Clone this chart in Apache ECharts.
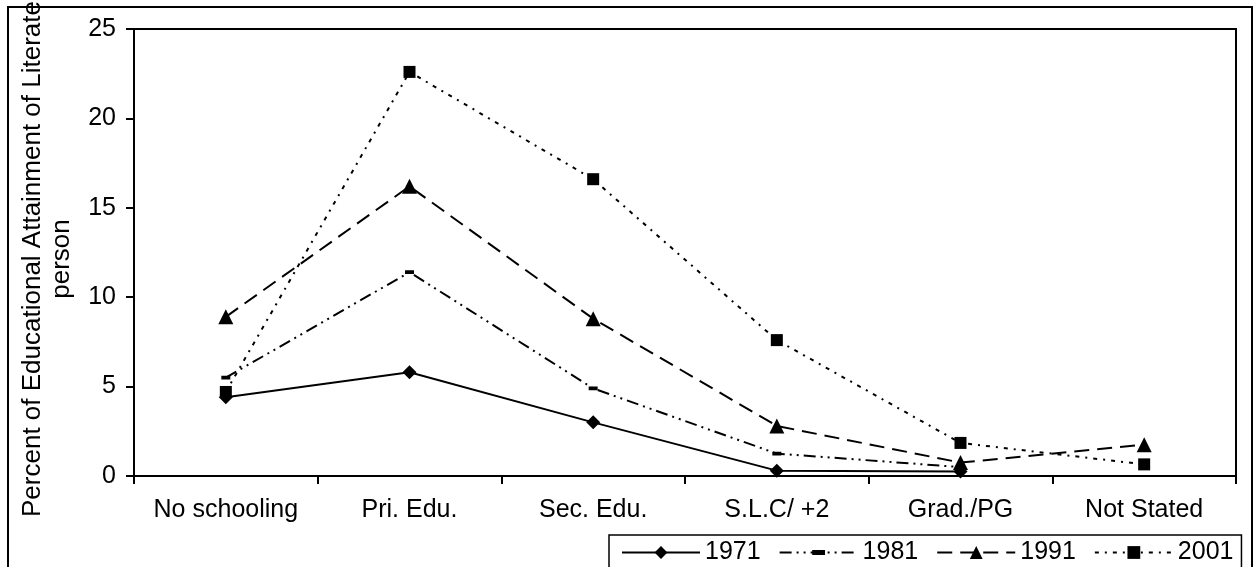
<!DOCTYPE html>
<html>
<head>
<meta charset="utf-8">
<title>Educational Attainment of Literate Persons</title>
<script src="https://cdn.jsdelivr.net/npm/echarts@6/dist/echarts.min.js"></script>
<style>
  html, body { margin: 0; padding: 0; background: #fff; }
  #chart { width: 1255px; height: 567px; }
</style>
</head>
<body>
<div id="chart"></div>
<script>
// Education levels along the horizontal axis
const categories = ['No schooling', 'Pri. Edu.', 'Sec. Edu.', 'S.L.C/ +2', 'Grad./PG', 'Not Stated'];

// Census years shown as separate lines
const years = ['1971', '1981', '1991', '2001'];

// Percent of literate persons by education level (null = not reported)
const values1971 = [4.4, 5.8, 3.0, 0.3, 0.25, null];
const values1981 = [5.5, 11.4, 4.9, 1.25, 0.5, null];
const values1991 = [8.9, 16.2, 8.8, 2.8, 0.75, 1.75];
const values2001 = [4.7, 22.6, 16.6, 7.6, 1.85, 0.65];

// Value axis ticks
const yTicks = [0, 5, 10, 15, 20, 25];

const FONT = '"Liberation Sans", Arial, sans-serif';
// short flat bar centred in a square box (the empty sub-paths set the box size)
const BAR_SYMBOL = 'path://M0,0L0.01,0ZM0,3L10,3L10,7L0,7ZM0,10L0.01,10Z';

const chart = echarts.init(document.getElementById('chart'), null, { renderer: 'canvas' });

function lineSeries(name, data, symbol, symbolSize, dash) {
  return {
    name: name,
    type: 'line',
    data: data,
    symbol: symbol,
    symbolSize: symbolSize,
    showAllSymbol: true,
    connectNulls: false,
    animation: false,
    itemStyle: { color: '#000', borderWidth: 0 },
    lineStyle: { color: '#000', width: 2, type: dash, cap: 'butt' },
    emphasis: { disabled: true }
  };
}

chart.setOption({
  backgroundColor: '#fff',
  animation: false,
  textStyle: { fontFamily: FONT, color: '#000' },
  grid: {
    left: 134, right: 19, top: 29, bottom: 91,
    show: true, borderColor: '#000', borderWidth: 2, backgroundColor: '#fff'
  },
  xAxis: {
    type: 'category',
    data: categories,
    boundaryGap: true,
    axisLine: { lineStyle: { color: '#000', width: 2 } },
    axisTick: { show: true, length: 8, inside: false, lineStyle: { color: '#000', width: 2 } },
    axisLabel: { color: '#000', fontSize: 25, fontFamily: FONT, margin: 22, interval: 0 },
    splitLine: { show: false }
  },
  yAxis: {
    type: 'value',
    min: yTicks[0],
    max: yTicks[yTicks.length - 1],
    interval: yTicks[1] - yTicks[0],
    axisLine: { show: true, lineStyle: { color: '#000', width: 2 } },
    axisTick: { show: true, length: 8, lineStyle: { color: '#000', width: 2 } },
    axisLabel: { color: '#000', fontSize: 25, fontFamily: FONT, margin: 18 },
    splitLine: { show: false }
  },
  legend: {
    data: years,
    left: 609,
    top: 535,
    width: 614,
    orient: 'horizontal',
    itemWidth: 78,
    itemHeight: 16,
    itemGap: 18,
    padding: [5, 8, 12, 12],
    borderColor: '#000',
    borderWidth: 1.5,
    backgroundColor: '#fff',
    selectedMode: false,
    textStyle: { color: '#000', fontSize: 25, fontFamily: FONT }
  },
  graphic: [
    {
      type: 'rect',
      z: -10,
      shape: { x: 8, y: 7, width: 1244, height: 600 },
      style: { fill: 'none', stroke: '#000', lineWidth: 2 }
    },
    {
      type: 'text',
      z: 10,
      x: 47,
      y: 259,
      rotation: Math.PI / 2,
      style: {
        text: 'Percent of Educational Attainment of Literate\nperson',
        font: '26px ' + FONT,
        fill: '#000',
        textAlign: 'center',
        textVerticalAlign: 'middle',
        lineHeight: 29
      }
    }
  ],
  series: [
    lineSeries(years[0], values1971, 'diamond', 14, 'solid'),
    lineSeries(years[1], values1981, BAR_SYMBOL, 9, [12, 5, 2, 5, 2, 5]),
    lineSeries(years[2], values1991, 'triangle', 15, [15, 8]),
    lineSeries(years[3], values2001, 'rect', 12, [4, 6, 2, 6])
  ]
});
</script>
</body>
</html>
